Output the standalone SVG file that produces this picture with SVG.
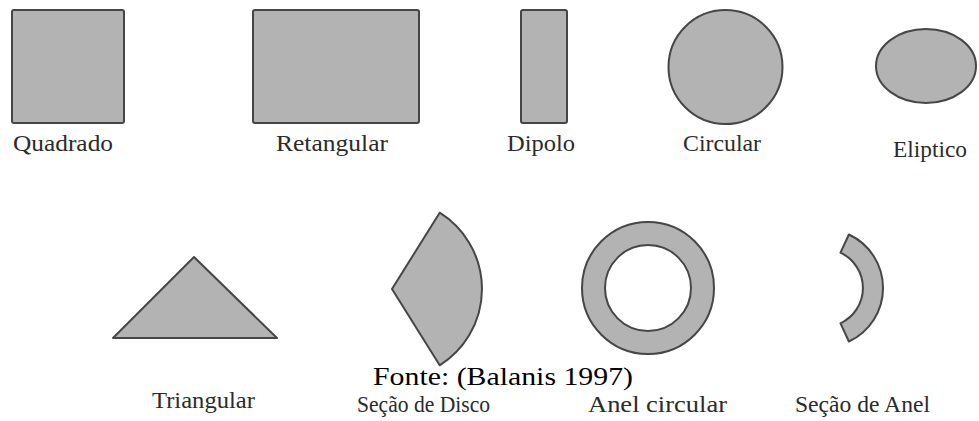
<svg xmlns="http://www.w3.org/2000/svg" width="979" height="421" viewBox="0 0 979 421">
<style>
.shape{fill:#b3b3b3;stroke:#464646;stroke-width:2;stroke-linejoin:round}
.lbl{font-family:"Liberation Serif","Times New Roman",serif;font-size:24px;fill:#2b2b2b}
.src{font-family:"Liberation Serif","Times New Roman",serif;font-size:26px;fill:#000}
</style>
<rect width="979" height="421" fill="#fff"/>
<g id="quadrado">
<rect class="shape" x="12" y="10" width="112" height="113" rx="2"/>
<text class="lbl" x="13" y="151" textLength="100" lengthAdjust="spacingAndGlyphs">Quadrado</text>
</g>
<g id="retangular">
<rect class="shape" x="253" y="10" width="166" height="113" rx="2"/>
<text class="lbl" x="276" y="151" textLength="112" lengthAdjust="spacingAndGlyphs">Retangular</text>
</g>
<g id="dipolo">
<rect class="shape" x="521" y="10" width="46" height="113" rx="2"/>
<text class="lbl" x="507" y="151" textLength="68" lengthAdjust="spacingAndGlyphs">Dipolo</text>
</g>
<g id="circular">
<circle class="shape" cx="725.5" cy="67" r="57"/>
<text class="lbl" x="683" y="151" textLength="78" lengthAdjust="spacingAndGlyphs">Circular</text>
</g>
<g id="eliptico">
<ellipse class="shape" cx="926" cy="66" rx="50" ry="37"/>
<text class="lbl" x="893" y="157" textLength="74" lengthAdjust="spacingAndGlyphs">Eliptico</text>
</g>
<g id="triangular">
<polygon class="shape" points="113,338 194,257 277,338"/>
<text class="lbl" x="152" y="408" textLength="103" lengthAdjust="spacingAndGlyphs">Triangular</text>
</g>
<g id="secao-disco">
<path class="shape" d="M392 289 L439.7 212.7 A90 90 0 0 1 439.7 365.3 Z"/>
<text class="lbl" x="357" y="412" textLength="133" lengthAdjust="spacingAndGlyphs">Seção de Disco</text>
</g>
<g id="anel-circular">
<path class="shape" fill-rule="evenodd" d="M582 288 A66 66 0 1 0 714 288 A66 66 0 1 0 582 288 Z M605 288 A43 43 0 1 0 691 288 A43 43 0 1 0 605 288 Z"/>
<text class="lbl" x="588" y="412" textLength="139" lengthAdjust="spacingAndGlyphs">Anel circular</text>
</g>
<g id="secao-anel">
<path class="shape" d="M848.9 234.5 A59 59 0 0 1 848.9 341.5 L840.5 323.3 A39 39 0 0 0 840.5 252.7 Z"/>
<text class="lbl" x="795" y="412" textLength="135" lengthAdjust="spacingAndGlyphs">Seção de Anel</text>
</g>
<g id="fonte">
<text class="src" x="373" y="385" textLength="260" lengthAdjust="spacingAndGlyphs">Fonte:  (Balanis 1997)</text>
</g>
<g id="connectors"></g>
</svg>
